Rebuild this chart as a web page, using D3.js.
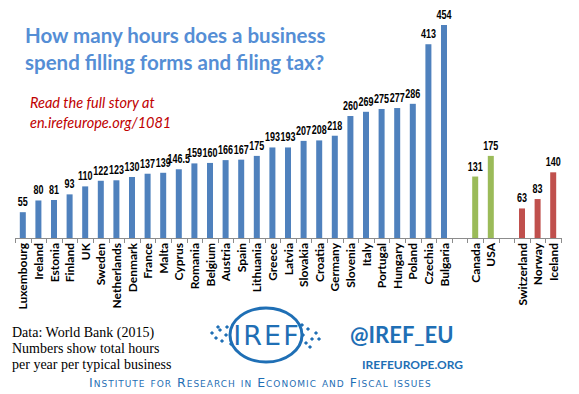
<!DOCTYPE html>
<html>
<head>
<meta charset="utf-8">
<script src="https://cdn.jsdelivr.net/npm/d3@7"></script>
<style>
  body { margin: 0; background: #fff; }
  svg { display: block; }
</style>
</head>
<body>
<div id="chart"></div>
<script>
// chart data
var euCountries = ["Luxembourg", "Ireland", "Estonia", "Finland", "UK", "Sweden", "Netherlands",
  "Denmark", "France", "Malta", "Cyprus", "Romania", "Belgium", "Austria", "Spain", "Lithuania",
  "Greece", "Latvia", "Slovakia", "Croatia", "Germany", "Slovenia", "Italy", "Portugal",
  "Hungary", "Poland", "Czechia", "Bulgaria"];
var euHours = [55, 80, 81, 93, 110, 122, 123, 130, 137, 139, 146.5, 159, 160, 166, 167, 175,
  193, 193, 207, 208, 218, 260, 269, 275, 277, 286, 413, 454];
var naCountries = ["Canada", "USA"];
var naHours = [131, 175];
var eftaCountries = ["Switzerland", "Norway", "Iceland"];
var eftaHours = [63, 83, 140];

var width = 579, height = 394;

// one row per bar, with empty slots between the groups
var rows = [];
euCountries.forEach(function(c, i) { rows.push({name: c, value: euHours[i], group: "eu"}); });
rows.push({name: "gap1", value: null});
naCountries.forEach(function(c, i) { rows.push({name: c, value: naHours[i], group: "na"}); });
rows.push({name: "gap2", value: null});
eftaCountries.forEach(function(c, i) { rows.push({name: c, value: eftaHours[i], group: "efta"}); });

var color = {eu: "#4F81BD", na: "#9BBB59", efta: "#C0504D"};

var svg = d3.select("#chart")
  .append("svg")
    .attr("width", width)
    .attr("height", height);

var x = d3.scaleBand()
  .domain(rows.map(function(d) { return d.name; }))
  .range([15, 561]);

var y = d3.scaleLinear()
  .domain([0, 454])
  .range([238, 25]);

var barW = 6;
var bars = rows.filter(function(d) { return d.value != null; });

// bars
svg.selectAll("rect.bar")
  .data(bars)
  .enter()
  .append("rect")
    .attr("class", "bar")
    .attr("x", function(d) { return x(d.name) + x.bandwidth() / 2 - barW / 2; })
    .attr("y", function(d) { return y(d.value); })
    .attr("width", barW)
    .attr("height", function(d) { return y(0) - y(d.value); })
    .style("fill", function(d) { return color[d.group]; });

// value labels (condensed, like Arial Narrow)
svg.selectAll("text.val")
  .data(bars)
  .enter()
  .append("text")
    .attr("class", "val")
    .attr("transform", function(d) {
      return "translate(" + (x(d.name) + x.bandwidth() / 2) + "," + (y(d.value) - 6) + ") scale(0.75,1)";
    })
    .attr("text-anchor", "middle")
    .style("font-family", "'Liberation Sans', Arial, sans-serif")
    .style("font-weight", "bold")
    .style("font-size", "12px")
    .text(function(d) { return d.value; });

// axis line and ticks between categories
svg.append("line")
  .attr("x1", x.range()[0]).attr("x2", x.range()[1])
  .attr("y1", y(0) + 0.5).attr("y2", y(0) + 0.5)
  .style("stroke", "#8C8C8C");

var tickPos = x.domain().map(function(d) { return x(d); }).concat([x.range()[1]]);
svg.selectAll("line.tick")
  .data(tickPos)
  .enter()
  .append("line")
    .attr("class", "tick")
    .attr("x1", function(d) { return Math.round(d) + 0.5; })
    .attr("x2", function(d) { return Math.round(d) + 0.5; })
    .attr("y1", y(0))
    .attr("y2", y(0) + 5)
    .style("stroke", "#8C8C8C");

// category labels, rotated
svg.append("g")
  .selectAll("text.cat")
  .data(bars)
  .enter()
  .append("text")
    .attr("class", "cat")
    .attr("transform", function(d) {
      return "translate(" + (x(d.name) + x.bandwidth() / 2 + 4.5) + "," + (y(0) + 5) + ") rotate(-90)";
    })
    .attr("text-anchor", "end")
    .style("font-family", "Lato, 'Open Sans', sans-serif")
    .style("font-weight", "bold")
    .style("font-size", "12px")
    .text(function(d) { return d.name; });

// title
var title = svg.append("text")
  .style("font-family", "Lato, 'Open Sans', sans-serif")
  .style("font-weight", "bold")
  .style("font-size", "20.5px")
  .style("fill", "#558ED5");
title.append("tspan").attr("x", 25).attr("y", 43).text("How many hours does a business");
title.append("tspan").attr("x", 25).attr("y", 70).text("spend filling forms and filing tax?");

// link text
var link = svg.append("text")
  .style("font-family", "Lato, 'Open Sans', sans-serif")
  .style("font-style", "italic")
  .style("font-size", "14.5px")
  .style("fill", "#C00000");
link.append("tspan").attr("x", 30).attr("y", 108).text("Read the full story at");
link.append("tspan").attr("x", 30).attr("y", 128).text("en.irefeurope.org/1081");

// source note
var note = svg.append("text")
  .style("font-family", "'Liberation Serif', 'Times New Roman', serif")
  .style("font-size", "14px")
  .style("fill", "#000");
note.append("tspan").attr("x", 12).attr("y", 337).text("Data: World Bank (2015)");
note.append("tspan").attr("x", 12).attr("y", 353).text("Numbers show total  hours");
note.append("tspan").attr("x", 12).attr("y", 369).text("per year per typical business");

// logo
var logoBlue = "#1F6FB5";
var logo = svg.append("g").attr("transform", "translate(266,335)");
logo.append("ellipse")
  .attr("rx", 36).attr("ry", 27)
  .style("fill", "none")
  .style("stroke", logoBlue)
  .style("stroke-width", 3);
logo.append("text")
  .attr("x", 1).attr("y", 10)
  .attr("text-anchor", "middle")
  .style("font-family", "'DejaVu Sans', sans-serif")
  .style("font-size", "27px")
  .style("letter-spacing", "2px")
  .style("fill", logoBlue)
  .text("IREF");
var dots = [[-54, -2], [-50, 3], [-46, -5], [-44, 6], [-40, 0], [-39, -8], [-35, 9], [-48, -8],
  [50, -2], [46, 4], [42, -6], [40, 8], [53, 4], [37, 0], [44, 12], [36, -10]];
logo.selectAll("rect.dot")
  .data(dots)
  .enter()
  .append("rect")
    .attr("class", "dot")
    .attr("x", -1.5).attr("y", -1.5)
    .attr("width", 3).attr("height", 3)
    .attr("transform", function(d) { return "translate(" + d[0] + "," + d[1] + ") rotate(45)"; })
    .style("fill", logoBlue);

svg.append("text")
  .attr("x", 350).attr("y", 343)
  .style("font-family", "Lato, 'Open Sans', sans-serif")
  .style("font-weight", "bold")
  .style("font-size", "22px")
  .style("fill", logoBlue)
  .text("@IREF_EU");

svg.append("text")
  .attr("x", 362).attr("y", 369)
  .style("font-family", "Lato, 'Open Sans', sans-serif")
  .style("font-weight", "bold")
  .style("font-size", "12px")
  .style("fill", logoBlue)
  .text("IREFEUROPE.ORG");

svg.append("text")
  .attr("x", 89).attr("y", 387)
  .style("font-family", "'DejaVu Sans', sans-serif")
  .style("font-variant", "small-caps")
  .style("font-size", "12.5px")
  .style("letter-spacing", "1px")
  .style("fill", logoBlue)
  .text("Institute for Research in Economic and Fiscal issues");
</script>
</body>
</html>
